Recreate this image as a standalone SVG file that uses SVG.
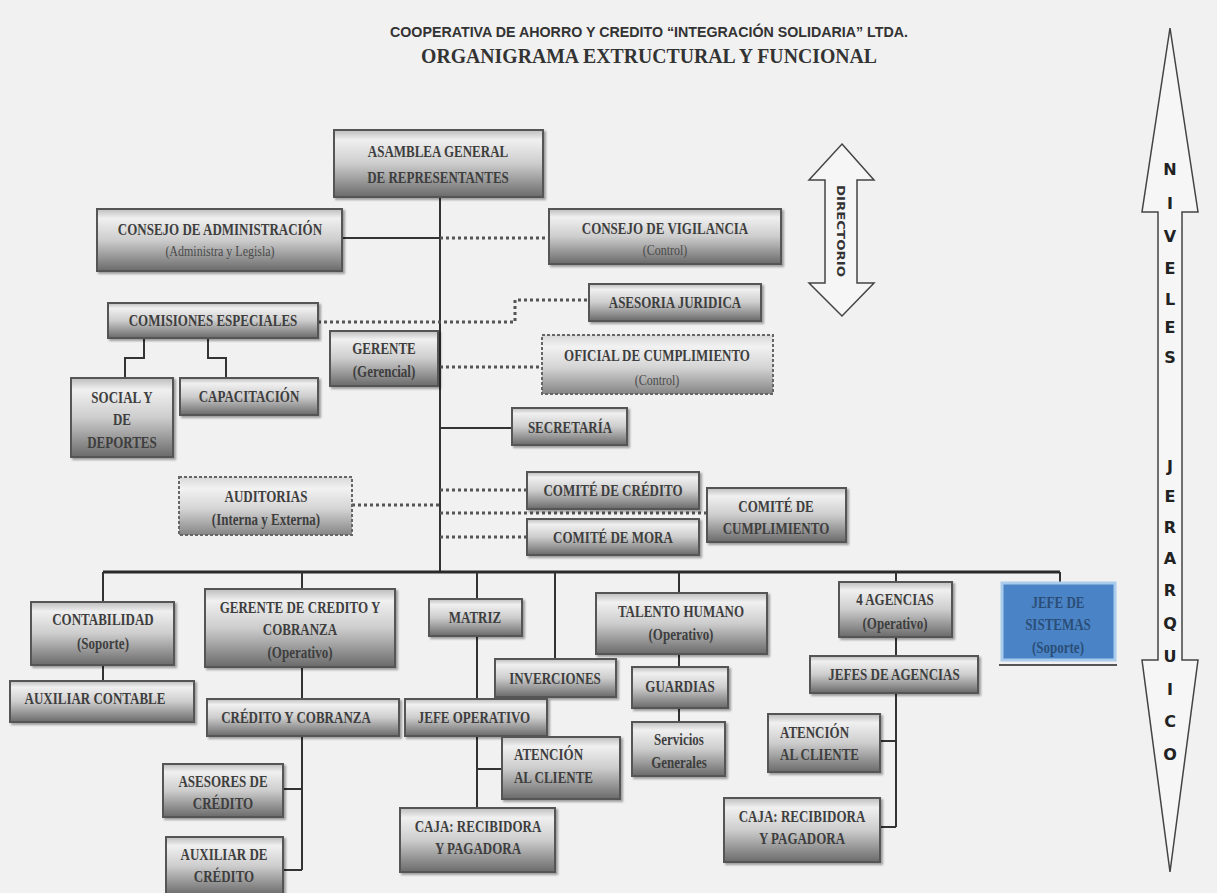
<svg xmlns="http://www.w3.org/2000/svg" width="1217" height="893" viewBox="0 0 1217 893">
<defs>
<linearGradient id="g" x1="0" y1="0" x2="0" y2="1">
<stop offset="0" stop-color="#bdbdbd"/>
<stop offset="0.15" stop-color="#f0f0f0"/>
<stop offset="0.5" stop-color="#cdcdcd"/>
<stop offset="1" stop-color="#6a6a6a"/>
</linearGradient>
<linearGradient id="g2" x1="0" y1="0" x2="0" y2="1">
<stop offset="0" stop-color="#d8d8d8"/>
<stop offset="0.2" stop-color="#f2f2f2"/>
<stop offset="0.55" stop-color="#d4d4d4"/>
<stop offset="1" stop-color="#858585"/>
</linearGradient>
<filter id="sh" x="-10%" y="-10%" width="130%" height="140%">
<feDropShadow dx="2" dy="2" stdDeviation="1" flood-color="#000" flood-opacity="0.35"/>
</filter>
</defs>
<style>
.box{fill:url(#g);stroke:#555;stroke-width:2;filter:url(#sh)}
.dbox{fill:url(#g2);stroke:#666;stroke-width:2;stroke-dasharray:3 2}
.blue{fill:#4a84c6;stroke:#a9cbec;stroke-width:3}
.t{font-family:"Liberation Serif",serif;font-weight:bold;font-size:13px;fill:#3e3e3e;text-anchor:middle;transform-box:fill-box;transform-origin:center;transform:scaleY(1.3)}
.s{font-family:"Liberation Serif",serif;font-weight:normal;font-size:12px;fill:#4a4a4a;text-anchor:middle;transform-box:fill-box;transform-origin:center;transform:scaleY(1.3)}
.l{text-anchor:start}
.bt{fill:#2b4e78}
.ln{stroke:#333;stroke-width:2;fill:none}
.bus{stroke:#2a2a2a;stroke-width:3;fill:none}
.dot{stroke:#555;stroke-width:3;stroke-dasharray:3 3;fill:none}
.arr{fill:#f6f6f6;stroke:#444;stroke-width:1.5}
.lv{font-family:"DejaVu Sans",sans-serif;font-weight:bold;font-size:16px;fill:#222;text-anchor:middle}
</style>
<rect x="0" y="0" width="1217" height="893" fill="#f1f1f1"/>

<g id="title">
<text x="649" y="37" font-family="Liberation Sans, sans-serif" font-weight="bold" font-size="15" fill="#333" text-anchor="middle" textLength="518" lengthAdjust="spacingAndGlyphs">COOPERATIVA DE AHORRO Y CREDITO “INTEGRACIÓN SOLIDARIA” LTDA.</text>
<text x="649" y="63" font-family="Liberation Serif, serif" font-weight="bold" font-size="21" fill="#333" text-anchor="middle" textLength="456" lengthAdjust="spacingAndGlyphs">ORGANIGRAMA  EXTRUCTURAL Y FUNCIONAL</text>
</g>

<g id="connectors">
<path class="ln" d="M440 197V572"/>
<path class="ln" d="M342 238H440"/>
<path class="dot" d="M440 238H549"/>
<path class="dot" d="M318 322H515V300H589"/>
<path class="dot" d="M440 367H542"/>
<path class="ln" d="M440 428H512"/>
<path class="dot" d="M352 505H440"/>
<path class="dot" d="M440 490H527"/>
<path class="dot" d="M440 513H707"/>
<path class="dot" d="M440 537H527"/>
<path class="ln" d="M144 338V358H125V378"/>
<path class="ln" d="M208 338V358H226V378"/>
<path class="bus" d="M103 572H1060"/>
<path class="ln" d="M103 572V602M103 665V681"/>
<path class="ln" d="M302 572V589M302 667V699M302 736V870M283 789H302M283 870H302"/>
<path class="ln" d="M477 572V599M477 636V699M477 736V808M477 769H502"/>
<path class="ln" d="M555 572V659"/>
<path class="ln" d="M679 572V593M679 654V667M679 708V722"/>
<path class="ln" d="M896 572V582M896 637V656M896 693V827M880 741H896M880 827H896"/>
<path class="ln" d="M1060 572V583"/>
</g>

<g id="n-asamblea"><rect class="box" x="334" y="130" width="209" height="67"/><text class="t" x="438" y="156" font-size="15">ASAMBLEA GENERAL</text><text class="t" x="438" y="182" font-size="15">DE REPRESENTANTES</text></g>
<g id="n-consejo-admin"><rect class="box" x="97" y="209" width="245" height="62"/><text class="t" x="220" y="234" font-size="12">CONSEJO DE ADMINISTRACIÓN</text><text class="s" x="220" y="255" font-size="11">(Administra y Legisla)</text></g>
<g id="n-consejo-vig"><rect class="box" x="549" y="209" width="232" height="55"/><text class="t" x="665" y="233" font-size="12">CONSEJO DE VIGILANCIA</text><text class="s" x="665" y="254" font-size="11">(Control)</text></g>
<g id="n-asesoria"><rect class="box" x="589" y="284" width="172" height="37"/><text class="t" x="675" y="307" font-size="12.5">ASESORIA JURIDICA</text></g>
<g id="n-comisiones"><rect class="box" x="108" y="303" width="210" height="35"/><text class="t" x="213" y="325" font-size="12">COMISIONES ESPECIALES</text></g>
<g id="n-gerente"><rect class="box" x="330" y="331" width="108" height="55"/><text class="t" x="384" y="353">GERENTE</text><text class="t" x="384" y="376">(Gerencial)</text></g>
<g id="n-oficial"><rect class="dbox" x="542" y="335" width="231" height="59"/><text class="t" x="657" y="360">OFICIAL DE CUMPLIMIENTO</text><text class="s" x="657" y="384">(Control)</text></g>
<g id="n-social"><rect class="box" x="71" y="378" width="102" height="79"/><text class="t" x="122" y="402">SOCIAL Y</text><text class="t" x="122" y="424">DE</text><text class="t" x="122" y="447">DEPORTES</text></g>
<g id="n-capacitacion"><rect class="box" x="180" y="378" width="138" height="37"/><text class="t" x="249" y="401">CAPACITACIÓN</text></g>
<g id="n-secretaria"><rect class="box" x="512" y="408" width="115" height="37"/><text class="t" x="570" y="432">SECRETARÍA</text></g>
<g id="n-auditorias"><rect class="dbox" x="179" y="477" width="173" height="58"/><text class="t" x="266" y="501">AUDITORIAS</text><text class="t" x="266" y="524" font-weight="normal">(Interna y Externa)</text></g>
<g id="n-comite-credito"><rect class="box" x="527" y="472" width="172" height="37"/><text class="t" x="613" y="495">COMITÉ DE CRÉDITO</text></g>
<g id="n-comite-cumpl"><rect class="box" x="707" y="488" width="139" height="54"/><text class="t" x="776" y="511">COMITÉ DE</text><text class="t" x="776" y="533">CUMPLIMIENTO</text></g>
<g id="n-comite-mora"><rect class="box" x="527" y="519" width="172" height="36"/><text class="t" x="613" y="542">COMITÉ DE MORA</text></g>

<g id="n-contabilidad"><rect class="box" x="31" y="602" width="143" height="63"/><text class="t" x="103" y="624">CONTABILIDAD</text><text class="t" x="103" y="648">(Soporte)</text></g>
<g id="n-aux-contable"><rect class="box" x="10" y="681" width="184" height="41"/><text class="t" x="95" y="703">AUXILIAR CONTABLE</text></g>
<g id="n-gerente-credito"><rect class="box" x="205" y="589" width="190" height="78"/><text class="t" x="300" y="612">GERENTE DE CREDITO Y</text><text class="t" x="300" y="634">COBRANZA</text><text class="t" x="300" y="657">(Operativo)</text></g>
<g id="n-credito-cobranza"><rect class="box" x="207" y="699" width="192" height="37"/><text class="t" x="296" y="722">CRÉDITO Y COBRANZA</text></g>
<g id="n-asesores"><rect class="box" x="163" y="764" width="120" height="53"/><text class="t" x="223" y="786">ASESORES DE</text><text class="t" x="223" y="808">CRÉDITO</text></g>
<g id="n-aux-credito"><rect class="box" x="166" y="837" width="117" height="58"/><text class="t" x="224" y="859">AUXILIAR DE</text><text class="t" x="224" y="881">CRÉDITO</text></g>
<g id="n-matriz"><rect class="box" x="429" y="599" width="93" height="37"/><text class="t" x="475" y="622">MATRIZ</text></g>
<g id="n-inverciones"><rect class="box" x="495" y="659" width="121" height="38"/><text class="t" x="555" y="683">INVERCIONES</text></g>
<g id="n-jefe-operativo"><rect class="box" x="405" y="699" width="142" height="37"/><text class="t" x="474" y="722">JEFE OPERATIVO</text></g>
<g id="n-atencion-1"><rect class="box" x="502" y="737" width="118" height="62"/><text class="t l" x="514" y="759">ATENCIÓN</text><text class="t l" x="514" y="782">AL CLIENTE</text></g>
<g id="n-caja-1"><rect class="box" x="400" y="808" width="155" height="64"/><text class="t" x="478" y="831">CAJA: RECIBIDORA</text><text class="t" x="478" y="853">Y PAGADORA</text></g>
<g id="n-talento"><rect class="box" x="596" y="593" width="171" height="61"/><text class="t" x="681" y="616">TALENTO HUMANO</text><text class="t" x="681" y="639">(Operativo)</text></g>
<g id="n-guardias"><rect class="box" x="632" y="667" width="96" height="41"/><text class="t" x="680" y="691">GUARDIAS</text></g>
<g id="n-servicios"><rect class="box" x="632" y="722" width="93" height="54"/><text class="t" x="679" y="744" font-weight="normal">Servicios</text><text class="t" x="679" y="767" font-weight="normal">Generales</text></g>
<g id="n-agencias"><rect class="box" x="839" y="582" width="113" height="55"/><text class="t" x="895" y="604">4 AGENCIAS</text><text class="t" x="895" y="628">(Operativo)</text></g>
<g id="n-jefes-agencias"><rect class="box" x="810" y="656" width="168" height="37"/><text class="t" x="894" y="679">JEFES DE AGENCIAS</text></g>
<g id="n-atencion-2"><rect class="box" x="768" y="714" width="112" height="58"/><text class="t l" x="780" y="737">ATENCIÓN</text><text class="t l" x="780" y="759">AL CLIENTE</text></g>
<g id="n-caja-2"><rect class="box" x="724" y="798" width="156" height="64"/><text class="t" x="802" y="821">CAJA: RECIBIDORA</text><text class="t" x="802" y="843">Y PAGADORA</text></g>
<g id="n-jefe-sistemas"><rect class="blue" x="1002" y="583" width="113" height="77"/><path d="M999 665H1117" stroke="#555" stroke-width="2"/><text class="t bt" x="1058" y="607" font-weight="normal">JEFE DE</text><text class="t bt" x="1058" y="629" font-weight="normal">SISTEMAS</text><text class="t bt" x="1058" y="652" font-weight="normal">(Soporte)</text></g>

<g id="directorio">
<polygon class="arr" points="842,144 874,180 857,180 857,283 874,283 842,316 809,283 825,283 825,180 809,180"/>
<text transform="rotate(90 841 231)" x="841" y="235" font-family="DejaVu Sans, sans-serif" font-weight="bold" font-size="11" fill="#333" text-anchor="middle" textLength="92" lengthAdjust="spacingAndGlyphs">DIRECTORIO</text>
</g>

<g id="niveles">
<polygon class="arr" points="1170,28 1198,212 1182,212 1182,660 1198,660 1170,872 1142,660 1158,660 1158,212 1142,212"/>
<text class="lv" x="1170" y="175">N</text>
<text class="lv" x="1170" y="209">I</text>
<text class="lv" x="1170" y="242">V</text>
<text class="lv" x="1170" y="274">E</text>
<text class="lv" x="1170" y="305">L</text>
<text class="lv" x="1170" y="333">E</text>
<text class="lv" x="1170" y="363">S</text>
<text class="lv" x="1170" y="472">J</text>
<text class="lv" x="1170" y="502">E</text>
<text class="lv" x="1170" y="533">R</text>
<text class="lv" x="1170" y="564">A</text>
<text class="lv" x="1170" y="596">R</text>
<text class="lv" x="1170" y="629">Q</text>
<text class="lv" x="1170" y="662">U</text>
<text class="lv" x="1170" y="695">I</text>
<text class="lv" x="1170" y="727">C</text>
<text class="lv" x="1170" y="760">O</text>
</g>
</svg>
